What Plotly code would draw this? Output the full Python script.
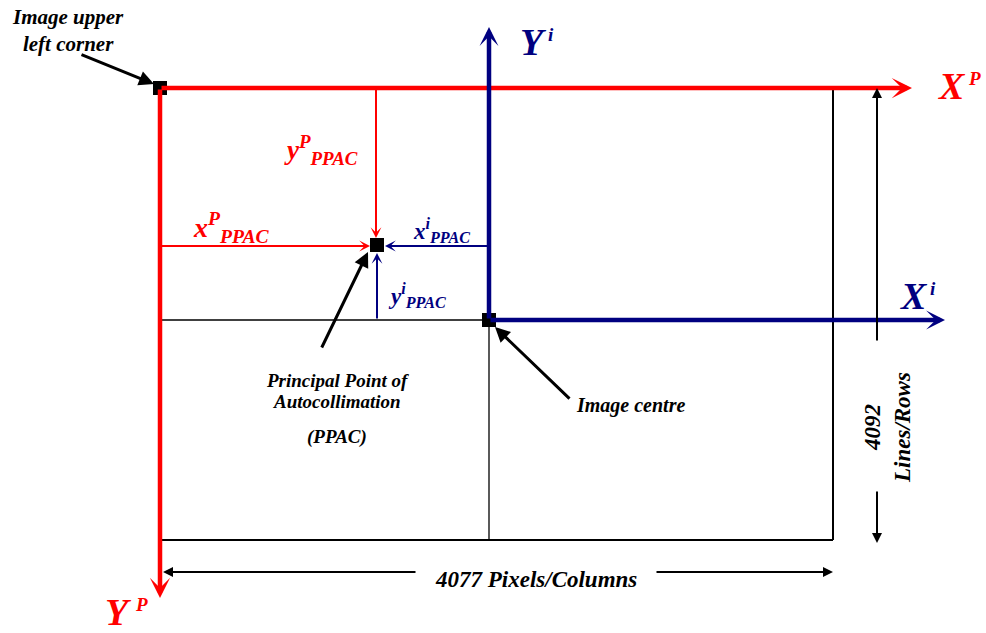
import plotly.graph_objects as go

# ---- diagram values (diagram coordinates, origin top-left, y downward) ----
IMAGE_COLUMNS = 4077
IMAGE_ROWS = 4092
frame_x = [160, 833]          # image frame left / right
frame_y = [88, 540]           # image frame top / bottom
centre = [489, 320]           # image centre
ppac = [377, 245]             # principal point of autocollimation
xp_axis_end = 912
yp_axis_end = 598
xi_axis_end = 945
yi_axis_end = 27

RED = "#FF0000"
NAVY = "#000080"
BLACK = "#000000"
FONT = "Liberation Serif"

fig = go.Figure()
fig.add_trace(go.Scatter(x=[0, 986], y=[0, 633], mode="markers",
                         marker=dict(opacity=0), hoverinfo="skip", showlegend=False))

shapes = []
def line(x0, y0, x1, y1, color, width):
    shapes.append(dict(type="line", xref="x", yref="y", x0=x0, y0=y0, x1=x1, y1=y1,
                       line=dict(color=color, width=width)))

def square(cx, cy, s=14):
    shapes.append(dict(type="rect", xref="x", yref="y", x0=cx - s/2, x1=cx + s/2,
                       y0=cy - s/2, y1=cy + s/2, fillcolor=BLACK,
                       line=dict(color=BLACK, width=0)))

# image frame (thin black)
line(frame_x[1], frame_y[0], frame_x[1], frame_y[1], BLACK, 2)
line(frame_x[0], frame_y[1], frame_x[1], frame_y[1], BLACK, 2)
# thin centre lines
line(frame_x[0], centre[1], centre[0], centre[1], BLACK, 1.3)
line(centre[0], centre[1], centre[0], frame_y[1], BLACK, 1.3)

annotations = []
def arrow(x0, y0, x1, y1, color, width, head=3, size=1.0):
    annotations.append(dict(x=x1, y=y1, ax=x0, ay=y0, xref="x", yref="y",
                            axref="x", ayref="y", text="", showarrow=True,
                            arrowhead=head, arrowsize=size, arrowwidth=width,
                            arrowcolor=color, standoff=0, startstandoff=0))

def text(x, y, s, size, color=BLACK, xanchor="center", yanchor="middle", angle=0):
    annotations.append(dict(x=x, y=y, xref="x", yref="y", text=s, showarrow=False,
                            font=dict(family=FONT, size=size, color=color),
                            xanchor=xanchor, yanchor=yanchor, textangle=angle))

# red photo axes
arrow(frame_x[0], frame_y[0], xp_axis_end, frame_y[0], RED, 4.5, 3, 0.75)
arrow(frame_x[0], frame_y[0], frame_x[0], yp_axis_end, RED, 4.5, 3, 0.75)
# blue image axes
arrow(centre[0], centre[1], centre[0], yi_axis_end, NAVY, 4.5, 3, 0.7)
arrow(centre[0], centre[1], xi_axis_end, centre[1], NAVY, 4.5, 3, 0.7)

# PPAC offset arrows
arrow(ppac[0] - 1, frame_y[0], ppac[0] - 1, ppac[1] - 7, RED, 2, 3, 0.9)
arrow(frame_x[0], ppac[1] + 1, ppac[0] - 7, ppac[1] + 1, RED, 2, 3, 0.9)
arrow(centre[0], ppac[1] + 1, ppac[0] + 8, ppac[1] + 1, NAVY, 2, 3, 0.9)
arrow(ppac[0], centre[1], ppac[0], ppac[1] + 8, NAVY, 2, 3, 0.9)

# leader arrows
arrow(80, 54, frame_x[0] - 6, frame_y[0] - 4, BLACK, 3, 2, 1.0)
arrow(321, 349, ppac[0] - 9, ppac[1] + 7, BLACK, 3, 2, 1.0)
arrow(571, 400, centre[0] + 6, centre[1] + 7, BLACK, 3, 2, 1.0)

# dimension arrows
arrow(877, 342, 877, frame_y[0], BLACK, 2, 2, 1.0)
arrow(877, 490, 877, 543, BLACK, 2, 2, 1.0)
arrow(417, 572, 163, 572, BLACK, 2, 2, 1.0)
arrow(655, 572, frame_x[1], 572, BLACK, 2, 2, 1.0)

# squares
square(frame_x[0], frame_y[0])
square(centre[0], centre[1])
square(ppac[0], ppac[1])

# axis labels
text(936, 86, "<b><i>X</i></b>", 38, RED, "left")
text(966, 78, "<b><i>P</i></b>", 19, RED, "left")
text(518, 42, "<b><i>Y</i></b>", 38, NAVY, "left")
text(546, 34, "<b><i>i</i></b>", 19, NAVY, "left")
text(898, 296, "<b><i>X</i></b>", 38, NAVY, "left")
text(928, 288, "<b><i>i</i></b>", 19, NAVY, "left")
text(103, 612, "<b><i>Y</i></b>", 38, RED, "left")
text(133, 604, "<b><i>P</i></b>", 19, RED, "left")

# offset labels
text(282, 150, "<b><i>y<sup>P</sup><sub>PPAC</sub></i></b>", 27, RED, "left")
text(191, 227, "<b><i>x<sup>P</sup><sub>PPAC</sub></i></b>", 28, RED, "left")
text(411, 230, "<b><i>x<sup>i</sup><sub>PPAC</sub></i></b>", 23, NAVY, "left")
text(386, 295, "<b><i>y<sup>i</sup><sub>PPAC</sub></i></b>", 23, NAVY, "left")

# descriptive labels
text(10, 30, "<b><i>Image upper<br>left corner</i></b>", 21, BLACK, "left")
text(337, 380, "<b><i>Principal Point of</i></b>", 19)
text(337, 401, "<b><i>Autocollimation</i></b>", 19)
text(337, 437, "<b><i>(PPAC)</i></b>", 19)
text(630, 405, "<b><i>Image centre</i></b>", 20)
text(536, 579, f"<b><i>{IMAGE_COLUMNS} Pixels/Columns</i></b>", 23)
text(887, 428, f"<b><i>{IMAGE_ROWS}<br>Lines/Rows</i></b>", 23, angle=-90)

fig.update_layout(
    width=986, height=633, margin=dict(l=0, r=0, t=0, b=0),
    paper_bgcolor="white", plot_bgcolor="white",
    xaxis=dict(range=[0, 986], visible=False, fixedrange=True),
    yaxis=dict(range=[633, 0], visible=False, fixedrange=True),
    shapes=shapes, annotations=annotations, showlegend=False,
)
fig.write_html("out.html", config={"displayModeBar": False},
               post_script="document.body.style.margin='0';document.body.style.overflow='hidden';")
